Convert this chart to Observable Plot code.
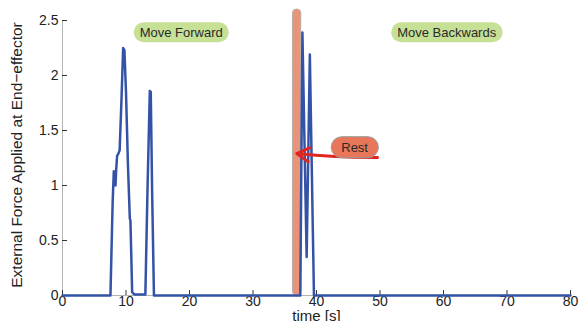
<!DOCTYPE html>
<html><head><meta charset="utf-8">
<script src="https://cdn.jsdelivr.net/npm/d3@7"></script>
<script src="https://cdn.jsdelivr.net/npm/@observablehq/plot@0.6"></script>
<style>body{margin:0;background:#fff} #chart{width:579px;height:321px;overflow:hidden}</style>
</head><body><div id="chart"></div>
<script>
// Force trace (time in s, force)
const time  = [0, 7.55, 7.9, 8.08, 8.25, 8.35, 8.45, 8.6, 8.8, 9.0, 9.3, 9.55, 9.75, 10.0, 10.3, 10.6, 10.7, 10.97, 11.3, 13.05, 13.4, 13.75, 13.9, 14.1, 14.4, 37.45, 37.78, 38.45, 38.95, 39.6, 80];
const force = [0, 0, 0.85, 1.13, 1.1, 1.0, 1.14, 1.27, 1.29, 1.32, 1.8, 2.25, 2.23, 1.85, 1.2, 0.70, 0.68, 0.03, 0.01, 0.01, 1.0, 1.86, 1.85, 1.0, 0, 0, 2.39, 0.35, 2.19, 0, 0];

const xTicks = [0, 10, 20, 30, 40, 50, 60, 70, 80];
const yTicks = [0, 0.5, 1, 1.5, 2, 2.5];

const phaseLabels = ["Move Forward", "Move Backwards"];
const phaseTime   = [18.7, 60.5];
const phaseForce  = [2.39, 2.39];

const restLabel = ["Rest"];
const restTime  = [46.0];
const restForce = [1.345];
const restStart = [36.3];
const restEnd   = [37.6];
const restTop   = [2.6];

const arrowFromTime = [49.6], arrowFromForce = [1.255];
const arrowToTime   = [36.9], arrowToForce   = [1.29];

const xTickLen = 0.8, yTickLen = 0.045;

const trace = time.map((t, i) => ({t, f: force[i]}));
const phases = phaseLabels.map((l, i) => ({l, t: phaseTime[i], f: phaseForce[i]}));
const rest = restLabel.map((l, i) => ({l, t: restTime[i], f: restForce[i], a: restStart[i], b: restEnd[i], top: restTop[i],
  x1: arrowFromTime[i], y1: arrowFromForce[i], x2: arrowToTime[i], y2: arrowToForce[i]}));

const svg = Plot.plot({
  width: 579, height: 321,
  marginLeft: 62, marginRight: 9, marginTop: 20, marginBottom: 26,
  style: {fontFamily: "'Liberation Sans', Arial, sans-serif", fontSize: "14px", color: "#222", background: "#fff"},
  x: {domain: [0, 80], axis: null},
  y: {domain: [0, 2.5], axis: null},
  marks: [
    Plot.ruleX([0], {stroke: "#b5b5b5", strokeWidth: 1}),
    Plot.ruleY([0], {stroke: "#b5b5b5", strokeWidth: 1}),
    Plot.ruleX(xTicks, {x: d => d, y1: 0, y2: yTickLen, stroke: "#333", strokeWidth: 1}),
    Plot.ruleY(yTicks, {y: d => d, x1: 0, x2: xTickLen, stroke: "#333", strokeWidth: 1}),
    Plot.text(xTicks, {x: d => d, frameAnchor: "bottom", dy: 10, text: d => String(d), fill: "#222", fontSize: 14}),
    Plot.text(yTicks, {y: d => d, frameAnchor: "left", dx: -4, textAnchor: "end", text: d => String(d), fill: "#222", fontSize: 14}),
    Plot.text(["time [s]"], {frameAnchor: "bottom", dy: 25, fill: "#222", fontSize: 15}),
    Plot.text(["External Force Applied at End\u2212effector"], {frameAnchor: "left", textAnchor: "middle", dx: -45, dy: -3, rotate: -90, fill: "#222", fontSize: 15.5}),
    Plot.rect(rest, {x1: "a", x2: "b", y1: 0, y2: "top", rx: 4, fill: "#e99478", stroke: "#b9aea6", strokeWidth: 1}),
    Plot.line(trace, {x: "t", y: "f", stroke: "#3453a6", strokeWidth: 2.5, strokeLinejoin: "round"}),
    Plot.arrow(rest, {x1: "x1", y1: "y1", x2: "x2", y2: "y2", bend: 3, stroke: "#e0261f", strokeWidth: 3, headLength: 7}),
    Plot.text(phases, {x: "t", y: "f", text: "l", fill: "#2a2a2a", fontSize: 13}),
    Plot.text(rest, {x: "t", y: "f", text: "l", fill: "#2a2a2a", fontSize: 13})
  ]
});
document.getElementById("chart").append(svg);

// rounded label backgrounds behind the annotation texts
const ns = "http://www.w3.org/2000/svg";
const pillStyle = new Map([
  ...phaseLabels.map(l => [l, {fill: "#c6e096", stroke: "none", padX: 6, padY: 2.5}]),
  ...restLabel.map(l => [l, {fill: "#e8775a", stroke: "#9a9a9a", padX: 10, padY: 3}])
]);
for (const t of Array.from(svg.querySelectorAll("text"))) {
  const s = pillStyle.get(t.textContent);
  if (!s) continue;
  const b = t.getBBox();
  const r = document.createElementNS(ns, "rect");
  const h = b.height + 2 * s.padY;
  r.setAttribute("x", b.x - s.padX);
  r.setAttribute("y", b.y - s.padY);
  r.setAttribute("width", b.width + 2 * s.padX);
  r.setAttribute("height", h);
  r.setAttribute("rx", h / 2);
  r.setAttribute("fill", s.fill);
  r.setAttribute("stroke", s.stroke);
  if (t.getAttribute("transform")) r.setAttribute("transform", t.getAttribute("transform"));
  t.parentNode.insertBefore(r, t);
}
</script>
</body></html>
